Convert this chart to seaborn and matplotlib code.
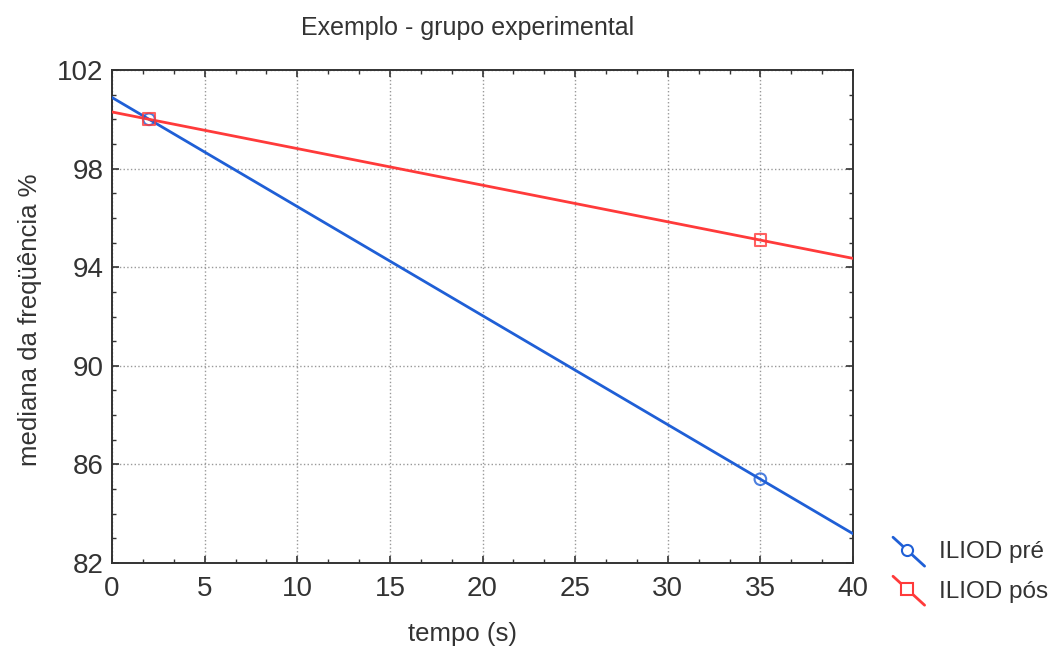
import numpy as np
import pandas as pd
import matplotlib
matplotlib.use("Agg")
import matplotlib.pyplot as plt
from matplotlib.legend_handler import HandlerLine2D
from matplotlib.lines import Line2D
from matplotlib.ticker import AutoMinorLocator
import seaborn as sns

tempo = [2, 35]
iliod_pre = [100.0, 85.4]
iliod_pos = [100.0, 95.1]
series_names = ["ILIOD pré", "ILIOD pós"]
x_ticks = [0, 5, 10, 15, 20, 25, 30, 35, 40]
y_ticks = [82, 86, 90, 94, 98, 102]

blue = "#1f5fd6"
red = "#ff3a3a"
text_col = "#333333"

sns.set_theme(style="white")
plt.rcParams["font.family"] = ["Liberation Sans", "DejaVu Sans"]
plt.rcParams["text.color"] = text_col
plt.rcParams["axes.labelcolor"] = text_col
plt.rcParams["xtick.color"] = text_col
plt.rcParams["ytick.color"] = text_col

fig = plt.figure(figsize=(10.51, 6.49), dpi=100)
ax = fig.add_axes([112/1051, 86/649, (853-112)/1051, (563-70)/649])
ax.set_xlim(0, 40)
ax.set_ylim(82, 102)

df = pd.DataFrame({"tempo": tempo, "pre": iliod_pre, "pos": iliod_pos})
sns.regplot(data=df, x="tempo", y="pre", ax=ax, ci=None, truncate=False,
            color=blue, marker="o",
            scatter_kws=dict(s=70, facecolors="none", edgecolors=blue, linewidths=1.5, zorder=4),
            line_kws=dict(lw=2.0, zorder=3))
sns.regplot(data=df, x="tempo", y="pos", ax=ax, ci=None, truncate=False,
            color=red, marker="s",
            scatter_kws=dict(s=70, facecolors="none", edgecolors=red, linewidths=1.5, zorder=5),
            line_kws=dict(lw=2.0, zorder=3))
ax.set_xlim(0, 40)
ax.set_ylim(82, 102)

ax.set_xticks(x_ticks)
ax.set_yticks(y_ticks)
ax.xaxis.set_minor_locator(AutoMinorLocator(3))
ax.yaxis.set_minor_locator(AutoMinorLocator(4))
ax.tick_params(which="both", direction="in", top=True, right=True,
               bottom=True, left=True, color="#333333")
ax.tick_params(which="major", length=5, width=1.2, labelsize=20)
ax.tick_params(axis="x", which="major", pad=9)
ax.tick_params(axis="y", which="major", pad=6)
ax.tick_params(which="minor", length=3, width=1.0)
ax.grid(True, which="major", linestyle=":", color="#999999", lw=1.0)
for s in ax.spines.values():
    s.set_color("#333333")
    s.set_linewidth(1.4)
ax.set_xlabel("")
ax.set_ylabel("")

fig.text(468/1051, 1 - 28/649, "Exemplo - grupo experimental", ha="center", va="center", fontsize=18)
fig.text(463/1051, 1 - 634/649, "tempo (s)", ha="center", va="center", fontsize=18.5)
fig.text(30/1051, 1 - 320/649, "mediana da freqüência %", ha="center", va="center",
         rotation=90, fontsize=18.5)


class DiagHandler(HandlerLine2D):
    def create_artists(self, legend, orig_handle, xdescent, ydescent, width, height, fontsize, trans):
        x0, x1 = -xdescent, -xdescent + width
        y0, y1 = -ydescent + height * 1.25, -ydescent - height * 0.45
        line = Line2D([x0, x1], [y0, y1], color=orig_handle.get_color(), lw=2.0)
        mk = Line2D([x0 + (x1 - x0) * 0.45], [y0 + (y1 - y0) * 0.45], marker=orig_handle.get_marker(),
                    markersize=8, markerfacecolor="white",
                    markeredgecolor=orig_handle.get_color(), markeredgewidth=1.5, linestyle="none")
        line.set_transform(trans)
        mk.set_transform(trans)
        return [line, mk]


handles = [Line2D([], [], color=blue, marker="o"), Line2D([], [], color=red, marker="s")]
fig.legend(handles, series_names, loc="center left", bbox_to_anchor=(893/1051, 1 - 572/649),
           frameon=False, fontsize=17.5, handler_map={Line2D: DiagHandler()},
           borderpad=0, borderaxespad=0,
           handlelength=1.3, handletextpad=0.6, labelspacing=0.7)

fig.savefig("out.png", dpi=100)
